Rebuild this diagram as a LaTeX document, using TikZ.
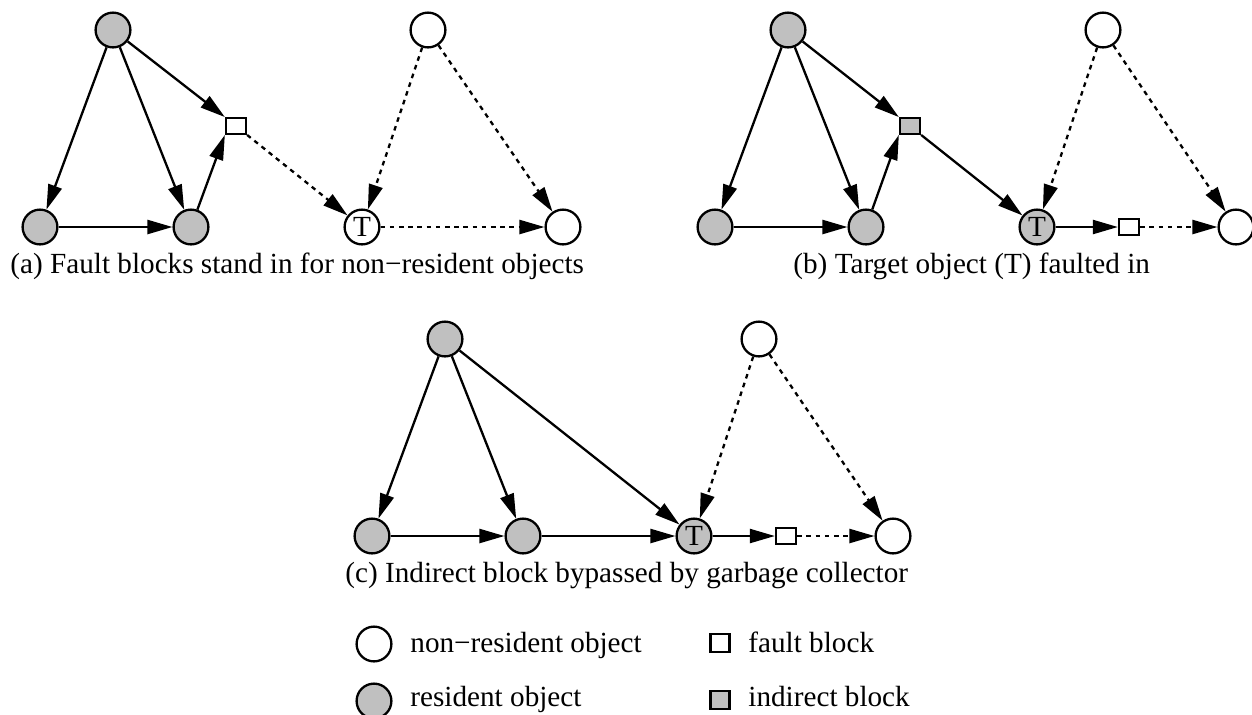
\documentclass[tikz,border=0pt]{standalone}
\usepackage{fontspec}
\setmainfont{Liberation Serif}
\usetikzlibrary{arrows.meta}
\definecolor{resgray}{RGB}{192,192,192}
\begin{document}
\begin{tikzpicture}[x=0.5pt,y=-0.5pt,
  every node/.style={font=\fontsize{14.6pt}{17pt}\selectfont},
  obj/.style={circle,draw,line width=1.15pt,minimum size=17.4pt,inner sep=0pt,fill=white},
  res/.style={obj,fill=resgray},
  blk/.style={rectangle,draw,line width=1.15pt,minimum width=10pt,minimum height=7.8pt,inner sep=0pt,fill=white},
  iblk/.style={blk,fill=resgray},
  lgsq/.style={blk,minimum width=9.6pt,minimum height=9pt},
  ref/.style={line width=1.15pt,-{Triangle[length=12.5pt,width=7pt]}},
  fref/.style={ref,dash pattern=on 2.3pt off 2.3pt},
  captext/.style={anchor=base west,inner sep=0pt},
]
\useasboundingbox (0,0) rectangle (1252,714);

% panel (a)
\node[res] (a1) at (113,30) {};
\node[res] (a2) at (40,227) {};
\node[res] (a3) at (191,227) {};
\node[blk] (ab) at (236,126) {};
\node[obj] (at) at (362,227) {T};
\node[obj] (aw) at (428,30) {};
\node[obj] (ar) at (563,227) {};
\draw[ref] (a1) -- (a2);
\draw[ref] (a1) -- (a3);
\draw[ref] (a1) -- (ab.north west);
\draw[ref] (a2) -- (a3);
\draw[ref] (a3) -- (ab.south west);
\draw[fref] (ab.south east) -- (at);
\draw[fref] (aw) -- (at);
\draw[fref] (aw) -- (ar);
\draw[fref] (at) -- (ar);
\node[captext] (capa) at (10,273) {(a) Fault blocks stand in for non−resident objects};

% panel (b)
\node[res] (b1) at (788,30) {};
\node[res] (b2) at (715,227) {};
\node[res] (b3) at (866,227) {};
\node[iblk] (bb) at (910,126) {};
\node[res] (bt) at (1037,227) {T};
\node[obj] (bw) at (1103,30) {};
\node[blk] (bf) at (1129,227) {};
\node[obj] (br) at (1236,227) {};
\draw[ref] (b1) -- (b2);
\draw[ref] (b1) -- (b3);
\draw[ref] (b1) -- (bb.north west);
\draw[ref] (b2) -- (b3);
\draw[ref] (b3) -- (bb.south west);
\draw[ref] (bb.south east) -- (bt);
\draw[fref] (bw) -- (bt);
\draw[fref] (bw) -- (br);
\draw[ref] (bt) -- (bf);
\draw[fref] (bf) -- (br);
\node[captext] (capb) at (793,273) {(b) Target object (T) faulted in};

% panel (c)
\node[res] (c1) at (445,339) {};
\node[res] (c2) at (372,536) {};
\node[res] (c3) at (523,536) {};
\node[res] (ct) at (694,536) {T};
\node[obj] (cw) at (759,339) {};
\node[blk] (cf) at (786,536) {};
\node[obj] (cr) at (893,536) {};
\draw[ref] (c1) -- (c2);
\draw[ref] (c1) -- (c3);
\draw[ref] (c1) -- (ct);
\draw[ref] (c2) -- (c3);
\draw[ref] (c3) -- (ct);
\draw[fref] (cw) -- (ct);
\draw[fref] (cw) -- (cr);
\draw[ref] (ct) -- (cf);
\draw[fref] (cf) -- (cr);
\node[captext] (capc) at (345,582) {(c) Indirect block bypassed by garbage collector};

% legend
\node[obj] (l1) at (374,644) {};
\node[captext] (l1t) at (410,652) {non−resident object};
\node[res] (l2) at (374,701) {};
\node[captext] (l2t) at (410,706) {resident object};
\node[lgsq] (l3) at (720,643) {};
\node[captext] (l3t) at (748,652) {fault block};
\node[lgsq,fill=resgray] (l4) at (720,700) {};
\node[captext] (l4t) at (748,706) {indirect block};
\end{tikzpicture}
\end{document}
